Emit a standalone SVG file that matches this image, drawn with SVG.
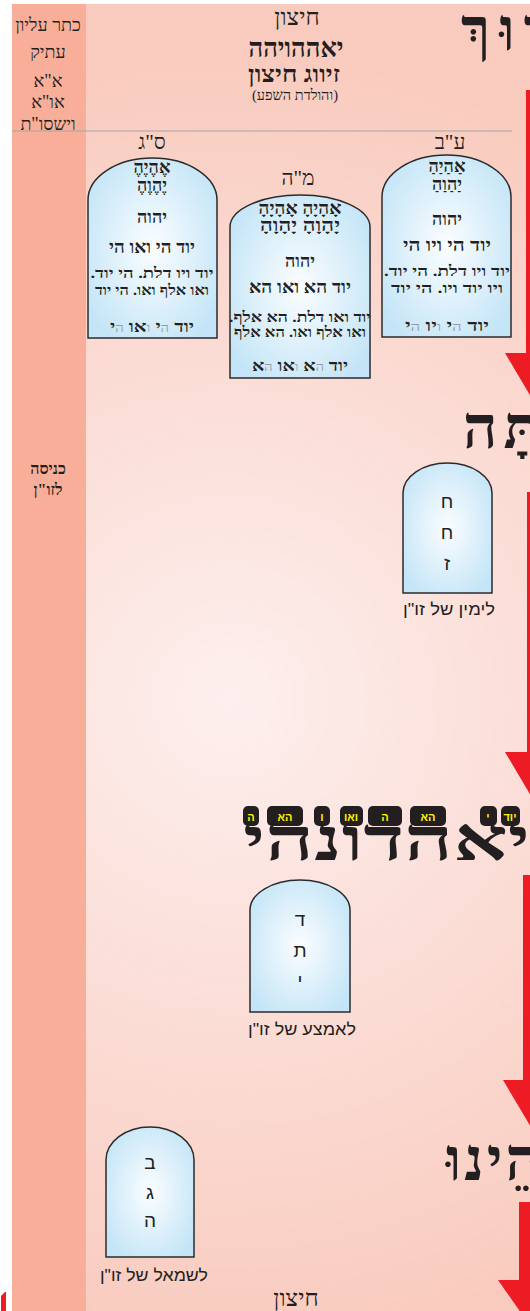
<svg xmlns="http://www.w3.org/2000/svg" width="530" height="1311" viewBox="0 0 530 1311">
<defs>
<radialGradient id="bg" gradientUnits="userSpaceOnUse" cx="230" cy="700" r="650">
<stop offset="0" stop-color="#fdefee"/>
<stop offset="1" stop-color="#f9cbbe"/>
</radialGradient>
<radialGradient id="tab" cx="0.5" cy="0.5" r="0.6">
<stop offset="0" stop-color="#fbfdff"/>
<stop offset="1" stop-color="#c4e5f7"/>
</radialGradient>
<style>
.t{fill:url(#tab);stroke:#2b2b2b;stroke-width:1.5}
.he{font-family:"Liberation Serif","DejaVu Sans",serif;fill:#231f20;text-anchor:middle;direction:rtl}
.b{font-weight:bold}
.sa{font-family:"Liberation Sans","DejaVu Sans",sans-serif;fill:#231f20;text-anchor:middle;direction:rtl}
.g{fill:#9a9a9a;font-size:12px;font-weight:normal}
.big{font-family:"Liberation Serif","DejaVu Sans",serif;font-weight:bold;fill:#231f20;font-size:60px}
.tag{fill:#231f20}
.ty{font-family:"Liberation Sans","DejaVu Sans",sans-serif;font-weight:bold;font-size:11px;fill:#fff200;text-anchor:middle;direction:rtl}
.arr{fill:#ed1c24}
</style>
</defs>

<g id="background">
<rect x="12" y="4" width="518" height="1307" fill="url(#bg)"/>
<rect x="12" y="4" width="74" height="1307" fill="#f8ae98"/>
<line x1="12" y1="131" x2="512" y2="131" stroke="#a3a3a3" stroke-width="1.2"/>
<path class="arr" d="M1,1296 L5,1292 L6,1292 L6,1311 L1,1311 Z"/>
</g>

<g id="connectors">
<rect class="arr" x="526" y="90" width="30" height="263"/>
<polygon class="arr" points="505,353 575,353 540,412"/>
<rect class="arr" x="527" y="492" width="30" height="260"/>
<polygon class="arr" points="505,752 575,752 540,811"/>
<rect class="arr" x="523" y="875" width="30" height="205"/>
<polygon class="arr" points="503,1080 573,1080 538,1139"/>
<rect class="arr" x="519" y="1202" width="30" height="78"/>
<polygon class="arr" points="498,1280 568,1280 533,1330"/>
</g>

<g id="left-column">
<text class="he" x="48" y="31" font-size="18">כתר עליון</text>
<text class="he" x="48" y="58" font-size="18">עתיק</text>
<text class="he" x="48" y="87" font-size="18">א"א</text>
<text class="he" x="48" y="108" font-size="18">או"א</text>
<text class="he" x="48" y="130" font-size="18">וישסו"ת</text>
<text class="he b" x="48" y="474" font-size="16">כניסה</text>
<text class="he b" x="48" y="495" font-size="16">לזו"ן</text>
</g>

<g id="header">
<text class="he" x="297" y="25" font-size="24">חיצון</text>
<text class="he b" x="296" y="57" font-size="27" textLength="95" lengthAdjust="spacingAndGlyphs">יאההויהה</text>
<text class="he b" x="294" y="82" font-size="24" textLength="92" lengthAdjust="spacingAndGlyphs">זיווג חיצון</text>
<text class="he" x="295" y="100" font-size="15" textLength="86" lengthAdjust="spacingAndGlyphs">(והולדת השפע)</text>
</g>

<g id="big-words">
<text class="big" x="461" y="50" letter-spacing="9">בָּרוּךְ</text>
<text class="big" x="463" y="448" letter-spacing="6">אַתָּה</text>
<text class="big" x="243" y="860" font-size="72" textLength="287" lengthAdjust="spacingAndGlyphs">יאהדונהי</text>
<text class="big" x="446" y="1180" letter-spacing="3">אֱלֹהֵינוּ</text>
</g>

<g id="tags">
<rect class="tag" x="501" y="806" width="19" height="20" rx="5"/><text class="ty" x="510" y="821">יוד</text>
<rect class="tag" x="480" y="806" width="17" height="20" rx="5"/><text class="ty" x="488" y="821">י</text>
<rect class="tag" x="410" y="806" width="36" height="20" rx="5"/><text class="ty" x="428" y="821">הא</text>
<rect class="tag" x="368" y="806" width="34" height="20" rx="5"/><text class="ty" x="385" y="821">ה</text>
<rect class="tag" x="340" y="806" width="23" height="20" rx="5"/><text class="ty" x="351" y="821">ואו</text>
<rect class="tag" x="314" y="806" width="16" height="20" rx="5"/><text class="ty" x="322" y="821">ו</text>
<rect class="tag" x="267" y="806" width="36" height="20" rx="5"/><text class="ty" x="285" y="821">הא</text>
<rect class="tag" x="243" y="806" width="16" height="20" rx="5"/><text class="ty" x="251" y="821">ה</text>
</g>

<g id="tablet-sag">
<text class="he" x="152" y="149" font-size="21">ס"ג</text>
<path class="t" d="M88,338 V200 A64.5,42 0 0 1 217,200 V338 Z"/>
<text class="he b" x="152" y="173" font-size="18">אֶהֶיֶהֶ</text>
<text class="he b" x="152" y="191" font-size="18">יֶהֶוֶהֶ</text>
<text class="he b" x="152" y="223" font-size="18">יהוה</text>
<text class="he b" x="152" y="253" font-size="18" textLength="86" lengthAdjust="spacingAndGlyphs">יוד הי ואו הי</text>
<text class="he b" x="152" y="278" font-size="15" textLength="123" lengthAdjust="spacingAndGlyphs">יוד ויו דלת. הי יוד.</text>
<text class="he b" x="152" y="295" font-size="15" textLength="114" lengthAdjust="spacingAndGlyphs">ואו אלף ואו. הי יוד</text>
<text class="he b" x="152" y="332" font-size="16" textLength="84" lengthAdjust="spacingAndGlyphs"><tspan>יוד </tspan><tspan class="g">ה</tspan><tspan>י </tspan><tspan class="g">ו</tspan><tspan>או </tspan><tspan class="g">ה</tspan><tspan>י</tspan></text>
</g>

<g id="tablet-mah">
<text class="he" x="298" y="185" font-size="21">מ"ה</text>
<path class="t" d="M230,378 V227 A70,32 0 0 1 370,227 V378 Z"/>
<text class="he b" x="300" y="214" font-size="18" textLength="83" lengthAdjust="spacingAndGlyphs">אָהָיָהָ אָהָיָהָ</text>
<text class="he b" x="300" y="231" font-size="18" textLength="80" lengthAdjust="spacingAndGlyphs">יָהָוָהָ יָהָוָהָ</text>
<text class="he b" x="300" y="267" font-size="18">יהוה</text>
<text class="he b" x="300" y="293" font-size="18" textLength="102" lengthAdjust="spacingAndGlyphs">יוד הא ואו הא</text>
<text class="he b" x="300" y="322" font-size="15" textLength="142" lengthAdjust="spacingAndGlyphs">יוד ואו דלת. הא אלף.</text>
<text class="he b" x="300" y="337" font-size="15" textLength="132" lengthAdjust="spacingAndGlyphs">ואו אלף ואו. הא אלף</text>
<text class="he b" x="300" y="371" font-size="16" textLength="96" lengthAdjust="spacingAndGlyphs"><tspan>יוד </tspan><tspan class="g">ה</tspan><tspan>א </tspan><tspan class="g">ו</tspan><tspan>או </tspan><tspan class="g">ה</tspan><tspan>א</tspan></text>
</g>

<g id="tablet-av">
<text class="he" x="450" y="149" font-size="21">ע"ב</text>
<path class="t" d="M382,337 V197 A64.5,42 0 0 1 511,197 V337 Z"/>
<text class="he b" x="447" y="172" font-size="18">אַהַיַהַ</text>
<text class="he b" x="447" y="190" font-size="18">יַהַוַהַ</text>
<text class="he b" x="447" y="225" font-size="18">יהוה</text>
<text class="he b" x="447" y="251" font-size="18" textLength="88" lengthAdjust="spacingAndGlyphs">יוד הי ויו הי</text>
<text class="he b" x="447" y="276" font-size="15" textLength="126" lengthAdjust="spacingAndGlyphs">יוד ויו דלת. הי יוד.</text>
<text class="he b" x="447" y="293" font-size="15" textLength="112" lengthAdjust="spacingAndGlyphs">ויו יוד ויו. הי יוד</text>
<text class="he b" x="447" y="331" font-size="16" textLength="84" lengthAdjust="spacingAndGlyphs"><tspan>יוד </tspan><tspan class="g">ה</tspan><tspan>י </tspan><tspan class="g">ו</tspan><tspan>יו </tspan><tspan class="g">ה</tspan><tspan>י</tspan></text>
</g>

<g id="tablet-right">
<path class="t" d="M403,593 V493 A44.5,30 0 0 1 492,493 V593 Z"/>
<text class="sa" x="447" y="508" font-size="19">ח</text>
<text class="sa" x="447" y="539" font-size="19">ח</text>
<text class="sa" x="447" y="570" font-size="19">ז</text>
<text class="sa" x="449" y="615" font-size="17" textLength="92" lengthAdjust="spacingAndGlyphs">לימין של זו"ן</text>
</g>

<g id="tablet-middle">
<path class="t" d="M250,1012 V910 A50,30 0 0 1 350,910 V1012 Z"/>
<text class="sa" x="300" y="926" font-size="19">ד</text>
<text class="sa" x="300" y="957" font-size="19">ת</text>
<text class="sa" x="300" y="987" font-size="19">י</text>
<text class="sa" x="302" y="1035" font-size="17" textLength="108" lengthAdjust="spacingAndGlyphs">לאמצע של זו"ן</text>
</g>

<g id="tablet-left">
<path class="t" d="M106,1257 V1160 A44,33 0 0 1 194,1160 V1257 Z"/>
<text class="sa" x="150" y="1169" font-size="19">ב</text>
<text class="sa" x="150" y="1199" font-size="19">ג</text>
<text class="sa" x="150" y="1227" font-size="19">ה</text>
<text class="sa" x="154" y="1281" font-size="17" textLength="108" lengthAdjust="spacingAndGlyphs">לשמאל של זו"ן</text>
</g>

<g id="footer">
<text class="he" x="296" y="1306" font-size="24">חיצון</text>
</g>
</svg>
